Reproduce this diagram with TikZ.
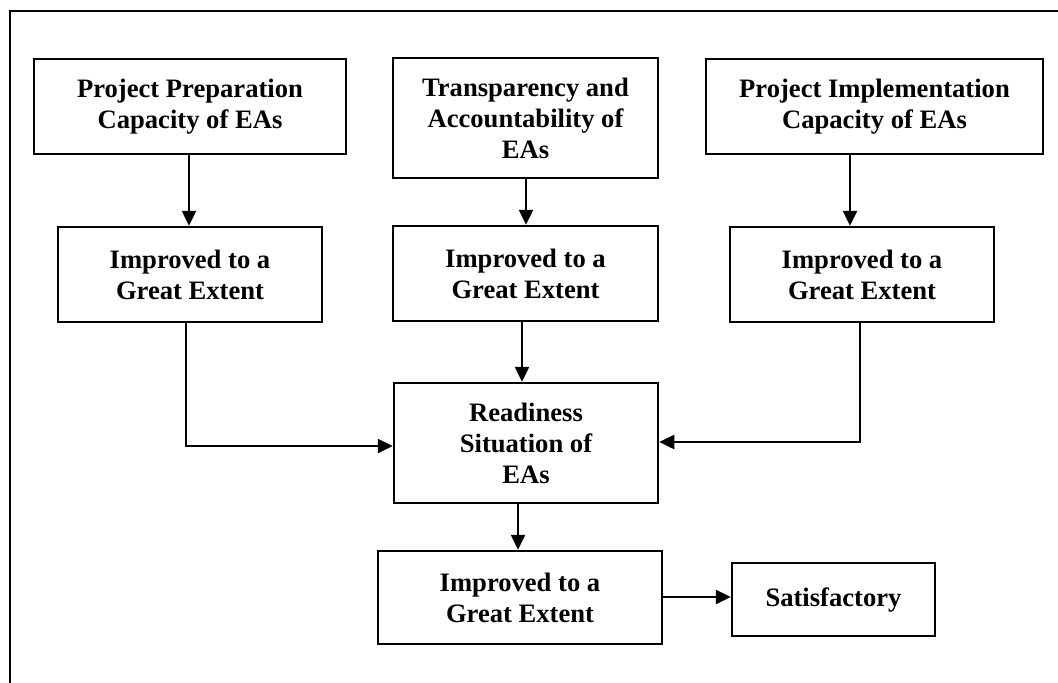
\documentclass[tikz,border=0pt]{standalone}
\usepackage{fontspec}
\setmainfont{Liberation Serif}
\usetikzlibrary{arrows.meta}
\begin{document}
\begin{tikzpicture}[x=1pt,y=-1pt,
  every node/.style={font=\bfseries\fontsize{26.6}{31}\selectfont},
  box/.style={draw,line width=2.5pt,align=center,inner sep=0pt},
  arr/.style={line width=2.5pt,-{Triangle[length=15pt,width=14pt]}},
  con/.style={line width=2.5pt}]
\useasboundingbox (0,0) rectangle (1058,683);
\draw[con] (10,683) -- (10,11) -- (1058,11);
\node[box,minimum width=312pt,minimum height=95pt] (A) at (190,106.5) {Project Preparation\\Capacity of EAs};
\node[box,minimum width=265pt,minimum height=120pt] (B) at (525.5,118) {Transparency and\\Accountability of\\EAs};
\node[box,minimum width=337pt,minimum height=95pt] (C) at (874.5,106.5) {Project Implementation\\Capacity of EAs};
\node[box,minimum width=264pt,minimum height=95pt] (A2) at (190,274.5) {Improved to a\\Great Extent};
\node[box,minimum width=265pt,minimum height=95pt] (B2) at (525.5,273.5) {Improved to a\\Great Extent};
\node[box,minimum width=264pt,minimum height=95pt] (C2) at (862,274.5) {Improved to a\\Great Extent};
\node[box,minimum width=264pt,minimum height=120pt] (R) at (526,443) {Readiness\\Situation of\\EAs};
\node[box,minimum width=284pt,minimum height=93pt] (D) at (520,597.5) {Improved to a\\Great Extent};
\node[box,minimum width=203pt,minimum height=73pt] (S) at (833.5,599.5) {Satisfactory};
\draw[arr] (189,0 |- A.south) -- (189,0 |- A2.north);
\draw[arr] (526,0 |- B.south) -- (526,0 |- B2.north);
\draw[arr] (850,0 |- C.south) -- (850,0 |- C2.north);
\draw[arr] (522,0 |- B2.south) -- (522,0 |- R.north);
\draw[arr] (518,0 |- R.south) -- (518,0 |- D.north);
\draw[arr] (186,0 |- A2.south) -- (186,446) -- (R.west |- 0,446);
\draw[arr] (860,0 |- C2.south) -- (860,442) -- (R.east |- 0,442);
\draw[arr] (D.east |- 0,597) -- (S.west |- 0,597);
\end{tikzpicture}
\end{document}
